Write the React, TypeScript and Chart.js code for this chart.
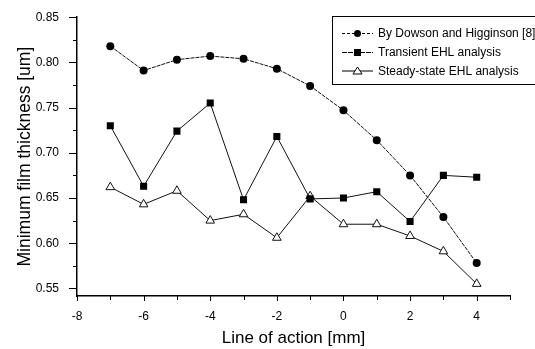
import React, { useEffect, useRef } from "react";
import { Chart, registerables } from "chart.js";

Chart.register(...registerables);

const xValues = [-7, -6, -5, -4, -3, -2, -1, 0, 1, 2, 3, 4];
const dowson = [0.818, 0.791, 0.803, 0.807, 0.804, 0.793, 0.774, 0.747, 0.714, 0.675, 0.629, 0.578];
const transient = [0.730, 0.663, 0.724, 0.755, 0.648, 0.718, 0.649, 0.650, 0.657, 0.624, 0.675, 0.673];
const steady = [0.662, 0.643, 0.658, 0.625, 0.632, 0.606, 0.652, 0.621, 0.621, 0.608, 0.591, 0.555];
const xTicks = [-8, -6, -4, -2, 0, 2, 4];
const xMinorTicks = [-7, -5, -3, -1, 1, 3, 5];
const yTicks = [0.55, 0.6, 0.65, 0.7, 0.75, 0.8, 0.85];
const yMinorTicks = [0.575, 0.625, 0.675, 0.725, 0.775, 0.825];
const seriesNames = ["By Dowson and Higginson [8]", "Transient EHL analysis", "Steady-state EHL analysis"];

const FONT = "'Liberation Sans', Arial, sans-serif";

function drawMarker(ctx: CanvasRenderingContext2D, kind: string, x: number, y: number) {
  ctx.save();
  ctx.setLineDash([]);
  ctx.lineWidth = 1;
  ctx.strokeStyle = "#000";
  if (kind === "circle") {
    ctx.fillStyle = "#000";
    ctx.beginPath();
    ctx.arc(x, y, 3.5, 0, Math.PI * 2);
    ctx.fill();
  } else if (kind === "rect") {
    ctx.fillStyle = "#000";
    ctx.fillRect(x - 3.5, y - 3.5, 7, 7);
  } else {
    ctx.fillStyle = "#fff";
    ctx.beginPath();
    ctx.moveTo(x, y - 4);
    ctx.lineTo(x + 4.5, y + 3);
    ctx.lineTo(x - 4.5, y + 3);
    ctx.closePath();
    ctx.fill();
    ctx.stroke();
  }
  ctx.restore();
}

const decorPlugin = {
  id: "decor",
  afterDraw(chart: any) {
    const ctx: CanvasRenderingContext2D = chart.ctx;
    const xs = chart.scales.x;
    const ys = chart.scales.y;
    const area = chart.chartArea;
    ctx.save();
    ctx.strokeStyle = "#000";
    ctx.lineWidth = 1;
    ctx.beginPath();
    xTicks.forEach((v) => {
      const px = Math.round(xs.getPixelForValue(v)) + 0.5;
      ctx.moveTo(px, area.bottom);
      ctx.lineTo(px, area.bottom + 5);
    });
    xMinorTicks.forEach((v) => {
      const px = Math.round(xs.getPixelForValue(v)) + 0.5;
      ctx.moveTo(px, area.bottom);
      ctx.lineTo(px, area.bottom + 4);
    });
    yTicks.forEach((v) => {
      const py = Math.round(ys.getPixelForValue(v)) + 0.5;
      ctx.moveTo(area.left, py);
      ctx.lineTo(area.left - 8, py);
    });
    yMinorTicks.forEach((v) => {
      const py = Math.round(ys.getPixelForValue(v)) + 0.5;
      ctx.moveTo(area.left, py);
      ctx.lineTo(area.left - 4, py);
    });
    ctx.stroke();

    // legend
    ctx.lineWidth = 1;
    ctx.strokeRect(332.5, 16.5, 220, 68);
    const kinds = ["circle", "rect", "triangle"];
    const dashes = [[3, 2], [5, 1], []];
    const rowY = [33, 52, 70.5];
    ctx.font = `12px ${FONT}`;
    ctx.fillStyle = "#000";
    ctx.textBaseline = "middle";
    ctx.textAlign = "left";
    for (let i = 0; i < 3; i++) {
      ctx.setLineDash(dashes[i]);
      ctx.beginPath();
      ctx.moveTo(342, rowY[i] + 0.5);
      ctx.lineTo(373, rowY[i] + 0.5);
      ctx.stroke();
      ctx.setLineDash([]);
      drawMarker(ctx, kinds[i], 357.5, rowY[i] + 0.5);
      ctx.fillText(seriesNames[i], 378, rowY[i] + 1);
    }
    ctx.restore();
  },
};

export default function App() {
  const ref = useRef<HTMLCanvasElement>(null);
  useEffect(() => {
    document.body.style.margin = "0";
    const ctx = ref.current!.getContext("2d")!;
    const chart = new Chart(ctx, {
      type: "line",
      data: {
        datasets: [
          {
            label: seriesNames[0],
            data: xValues.map((x, i) => ({ x, y: dowson[i] })),
            borderColor: "#111",
            backgroundColor: "#000",
            borderWidth: 1,
            borderDash: [4, 1],
            pointStyle: "circle",
            pointRadius: 4,
            pointBorderWidth: 0,
          },
          {
            label: seriesNames[1],
            data: xValues.map((x, i) => ({ x, y: transient[i] })),
            borderColor: "#111",
            backgroundColor: "#000",
            borderWidth: 1,
            pointStyle: "rect",
            pointRadius: 5,
            pointBorderWidth: 0,
          },
          {
            label: seriesNames[2],
            data: xValues.map((x, i) => ({ x, y: steady[i] })),
            borderColor: "#111",
            backgroundColor: "#fff",
            borderWidth: 1,
            pointStyle: "triangle",
            pointRadius: 5,
            pointBorderWidth: 1,
          },
        ],
      },
      options: {
        animation: false,
        responsive: false,
        layout: { padding: { top: 13, right: 25, left: 0, bottom: 0 } },
        plugins: { legend: { display: false }, tooltip: { enabled: false } },
        scales: {
          x: {
            type: "linear",
            min: -8,
            max: 5,
            afterBuildTicks: (s: any) => {
              s.ticks = xTicks.map((v) => ({ value: v }));
            },
            afterFit: (s: any) => {
              s.height = 53;
            },
            grid: { display: false },
            border: { display: true, color: "#000", width: 1.5 },
            ticks: {
              padding: 5,
              color: "#000",
              font: { family: FONT, size: 12 },
              maxRotation: 0,
              callback: (v: any) => String(v),
            },
            title: {
              display: true,
              text: "Line of action [mm]",
              color: "#000",
              font: { family: FONT, size: 17 },
              padding: { top: 0, bottom: 0 },
            },
          },
          y: {
            type: "linear",
            min: 0.5416,
            max: 0.85,
            afterBuildTicks: (s: any) => {
              s.ticks = yTicks.map((v) => ({ value: v }));
            },
            afterFit: (s: any) => {
              s.width = 77;
            },
            grid: { display: false },
            border: { display: true, color: "#000", width: 1.5 },
            ticks: {
              padding: 10,
              color: "#000",
              font: { family: FONT, size: 12 },
              callback: (v: any) => Number(v).toFixed(2),
            },
            title: {
              display: true,
              text: "Minimum film thickness [um]",
              color: "#000",
              font: { family: FONT, size: 17.5 },
              padding: { top: 15, bottom: 0 },
            },
          },
        },
      },
      plugins: [decorPlugin],
    });
    return () => chart.destroy();
  }, []);
  return (
    <div style={{ width: 535, height: 349, background: "#fff" }}>
      <canvas ref={ref} width={535} height={349} />
    </div>
  );
}
